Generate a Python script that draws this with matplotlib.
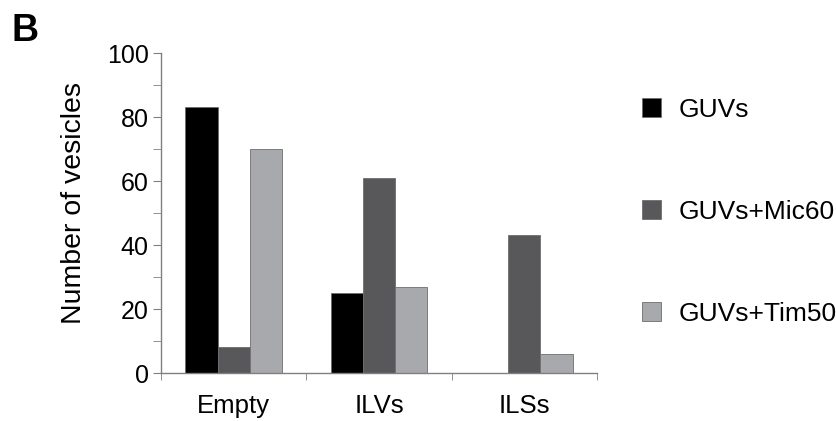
import numpy as np
import matplotlib
matplotlib.use("Agg")
import matplotlib.pyplot as plt

plt.rcParams["font.family"] = ["Liberation Sans", "DejaVu Sans"]

categories = ["Empty", "ILVs", "ILSs"]
series = ["GUVs", "GUVs+Mic60", "GUVs+Tim50"]
values = {
    "GUVs": [83, 25, 0],
    "GUVs+Mic60": [8, 61, 43],
    "GUVs+Tim50": [70, 27, 6],
}
colors = ["#000000", "#58585a", "#a8a9ac"]

fig = plt.figure(figsize=(8.37, 4.21), dpi=100)
ax = fig.add_axes([0.1924, 0.114, 0.5209, 0.760])

x = np.arange(len(categories))
w = 0.222
for i, (name, c) in enumerate(zip(series, colors)):
    ax.bar(x + (i - 1) * w, values[name], width=w, color=c,
           edgecolor="#6e6e6e", linewidth=0.6, label=name)

ax.set_xlim(-0.5, 2.5)
ax.set_ylim(0, 100)
ax.set_xticks(x)
ax.set_xticklabels(categories, fontsize=18.5)
ax.set_xticks([-0.5, 0.5, 1.5, 2.5], minor=True)
ax.tick_params(axis="x", which="major", length=0, pad=15)
ax.tick_params(axis="x", which="minor", length=5, color="#808080", direction="out")
ax.set_yticks(range(0, 101, 20))
ax.set_yticks(range(10, 100, 20), minor=True)
ax.tick_params(axis="y", which="both", length=6, color="#808080", labelsize=18, pad=3)
ax.set_ylabel("Number of vesicles", fontsize=20.5)
ax.yaxis.set_label_coords(-0.17, 0.53)

for s in ["top", "right"]:
    ax.spines[s].set_visible(False)
for s in ["left", "bottom"]:
    ax.spines[s].set_color("#808080")
    ax.spines[s].set_linewidth(1.0)

ax.legend(loc="upper left", bbox_to_anchor=(1.08, 0.893), frameon=False,
          fontsize=19, labelspacing=2.95, handlelength=0.72, handleheight=0.72,
          handletextpad=0.65, borderaxespad=0)

fig.text(0.014, 0.902, "B", fontsize=27, fontweight="bold")

fig.savefig("out.png", dpi=100)
